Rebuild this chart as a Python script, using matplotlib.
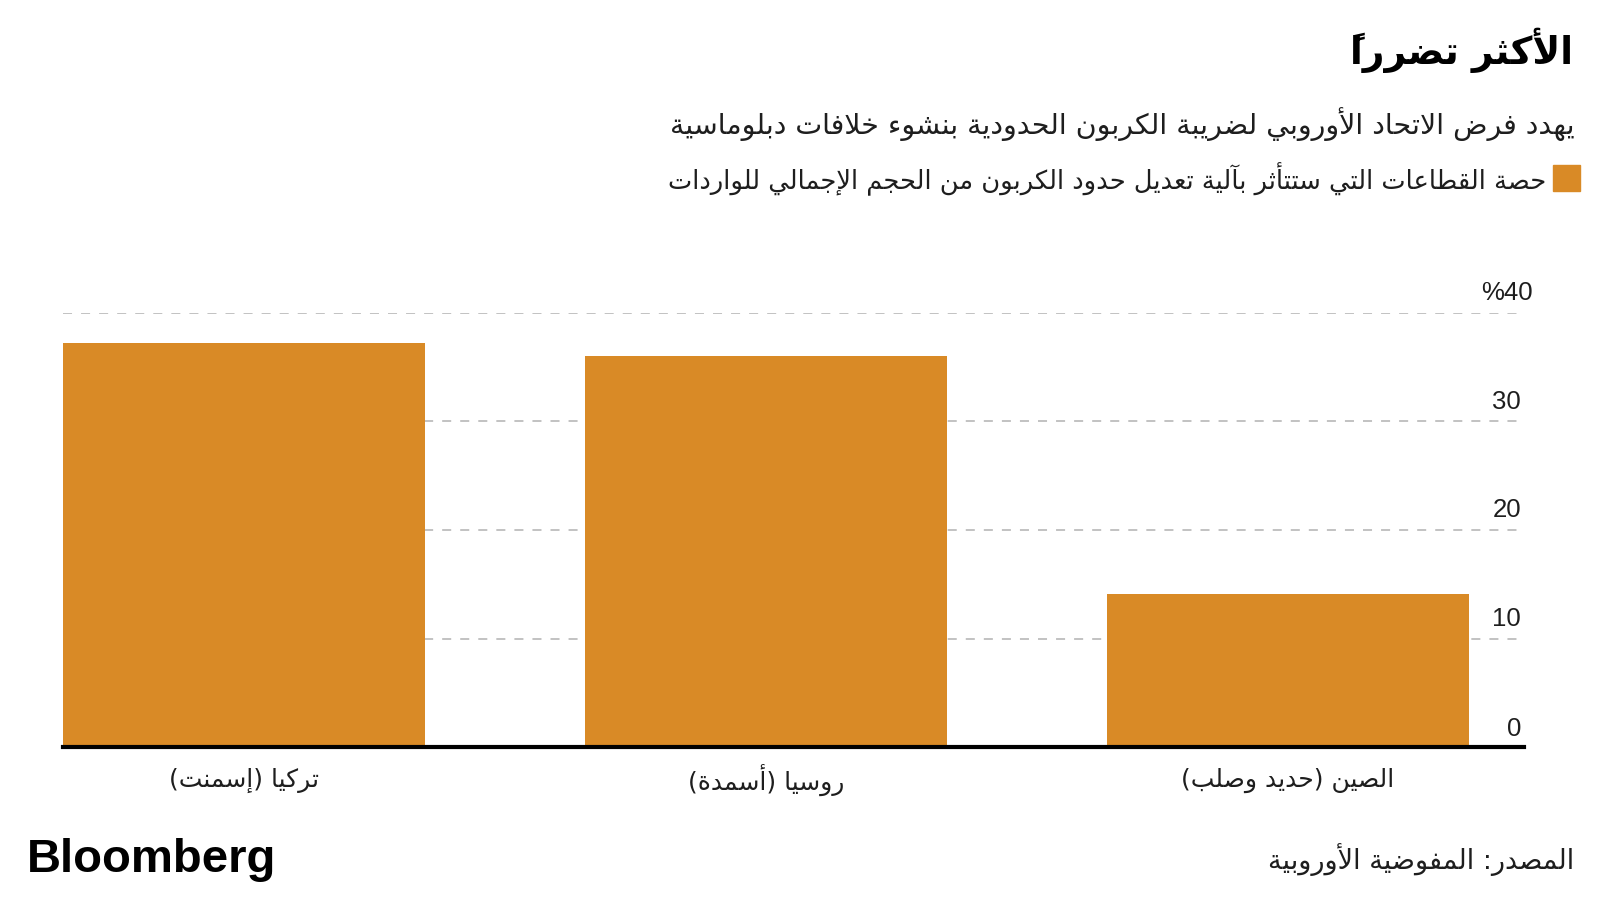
import matplotlib
matplotlib.use('Agg')
import matplotlib.pyplot as plt
from matplotlib.patches import Rectangle

# chart text and values
title = 'الأكثر تضرراً'
subtitle = 'يهدد فرض الاتحاد الأوروبي لضريبة الكربون الحدودية بنشوء خلافات دبلوماسية'
legend_label = 'حصة القطاعات التي ستتأثر بآلية تعديل حدود الكربون من الحجم الإجمالي للواردات'
source = 'المصدر: المفوضية الأوروبية'

categories = ['تركيا (إسمنت)', 'روسيا (أسمدة)', 'الصين (حديد وصلب)']
values = [37.2, 36.0, 14.1]
yticks = [0, 10, 20, 30, 40]
ytick_labels = ['0', '10', '20', '30', '%40']

BAR_COLOR = '#D98A26'
TEXT_COLOR = '#1e1e1e'

# --- tiny arabic shaper (matplotlib does no shaping / bidi) ---
_table = [('ء', 0xFE80, 1), ('آ', 0xFE81, 2), ('أ', 0xFE83, 2), ('ؤ', 0xFE85, 2),
          ('إ', 0xFE87, 2), ('ئ', 0xFE89, 4), ('ا', 0xFE8D, 2), ('ب', 0xFE8F, 4),
          ('ة', 0xFE93, 2), ('ت', 0xFE95, 4), ('ث', 0xFE99, 4), ('ج', 0xFE9D, 4),
          ('ح', 0xFEA1, 4), ('خ', 0xFEA5, 4), ('د', 0xFEA9, 2), ('ذ', 0xFEAB, 2),
          ('ر', 0xFEAD, 2), ('ز', 0xFEAF, 2), ('س', 0xFEB1, 4), ('ش', 0xFEB5, 4),
          ('ص', 0xFEB9, 4), ('ض', 0xFEBD, 4), ('ط', 0xFEC1, 4), ('ظ', 0xFEC5, 4),
          ('ع', 0xFEC9, 4), ('غ', 0xFECD, 4), ('ف', 0xFED1, 4), ('ق', 0xFED5, 4),
          ('ك', 0xFED9, 4), ('ل', 0xFEDD, 4), ('م', 0xFEE1, 4), ('ن', 0xFEE5, 4),
          ('ه', 0xFEE9, 4), ('و', 0xFEED, 2), ('ى', 0xFEEF, 2), ('ي', 0xFEF1, 4)]
FORMS = {ch: [chr(s + k) for k in range(n)] for ch, s, n in _table}
LAM_ALEF = {'آ': 0xFEF5, 'أ': 0xFEF7, 'إ': 0xFEF9, 'ا': 0xFEFB}
MARKS = set(chr(c) for c in range(0x064B, 0x0653))
MIRROR = {'(': ')', ')': '('}


def shape(text):
    clusters = []
    for c in text:
        if c in MARKS and clusters:
            clusters[-1][1].append(c)
        else:
            clusters.append([c, []])
    out = []
    prev_joins = False
    i = 0
    while i < len(clusters):
        c, marks = clusters[i]
        nxt = clusters[i + 1][0] if i + 1 < len(clusters) else ''
        if c == 'ل' and nxt in LAM_ALEF:
            out.append((chr(LAM_ALEF[nxt] + (1 if prev_joins else 0)), marks + clusters[i + 1][1]))
            prev_joins = False
            i += 2
            continue
        if c in FORMS:
            f = FORMS[c]
            to_next = len(f) == 4 and nxt in FORMS and len(FORMS[nxt]) > 1
            if prev_joins and to_next:
                g = f[3]
            elif prev_joins:
                g = f[1]
            elif to_next:
                g = f[2]
            else:
                g = f[0]
            out.append((g, marks))
            prev_joins = to_next
        else:
            out.append((MIRROR.get(c, c), marks))
            prev_joins = False
        i += 1
    # visual order; marks go before their base so they land on it
    return ''.join(''.join(m) + g for g, m in reversed(out))


AR = ['DejaVu Sans']

fig = plt.figure(figsize=(16, 9), dpi=100)
fig.patch.set_facecolor('white')

ax = fig.add_axes([63 / 1600, 1 - 747 / 900, 1461 / 1600, 434 / 900])
x = list(range(len(categories)))
ax.bar(x, values, width=0.694, color=BAR_COLOR, zorder=3)
ax.set_xlim(-0.347, 2.452)
ax.set_ylim(0, 40)
ax.set_yticks(yticks[1:])
ax.yaxis.grid(True, linestyle=(0, (5, 5)), color='#bdbdbd', linewidth=1.3, zorder=1)
ax.tick_params(left=False, bottom=False, labelleft=False, labelbottom=False)
for s in ax.spines.values():
    s.set_visible(False)
ax.axhline(0, color='black', linewidth=3, zorder=4, clip_on=False)

# y tick labels on the right, sitting above the gridlines
for t, lab in zip(yticks, ytick_labels):
    ax.annotate(lab, xy=(1.0, t), xycoords=('axes fraction', 'data'),
                xytext=(-2 if t < 40 else 6, 5.5 if t > 0 else 4), textcoords='offset points',
                ha='right', va='bottom', fontsize=18.5, family='Liberation Sans',
                color=TEXT_COLOR, annotation_clip=False)

# category labels
for xi, lab in zip(x, categories):
    ax.annotate(shape(lab), xy=(xi, 0), xycoords='data', xytext=(0, -24),
                textcoords='offset points', ha='center', va='center',
                fontsize=18, family=AR, color=TEXT_COLOR, annotation_clip=False)

fig.text(1573 / 1600, 1 - 50 / 900, shape(title), ha='right', va='center',
         fontsize=27, fontweight='bold', family=AR, color='black')
fig.text(1575 / 1600, 1 - 124 / 900, shape(subtitle), ha='right', va='center',
         fontsize=20.5, family=AR, color=TEXT_COLOR)
fig.add_artist(Rectangle((1553 / 1600, 1 - 191 / 900), 27 / 1600, 26 / 900,
                         transform=fig.transFigure, color=BAR_COLOR))
fig.text(1546 / 1600, 1 - 179 / 900, shape(legend_label), ha='right', va='center',
         fontsize=18.5, family=AR, color=TEXT_COLOR)

fig.text(27 / 1600, 1 - 860 / 900, 'Bloomberg', ha='left', va='center',
         fontsize=34, fontweight='bold', family='Liberation Sans', color='black')
fig.text(1574 / 1600, 1 - 860 / 900, shape(source), ha='right', va='center',
         fontsize=19.5, family=AR, color=TEXT_COLOR)

fig.savefig('out.png', dpi=100, facecolor='white')
